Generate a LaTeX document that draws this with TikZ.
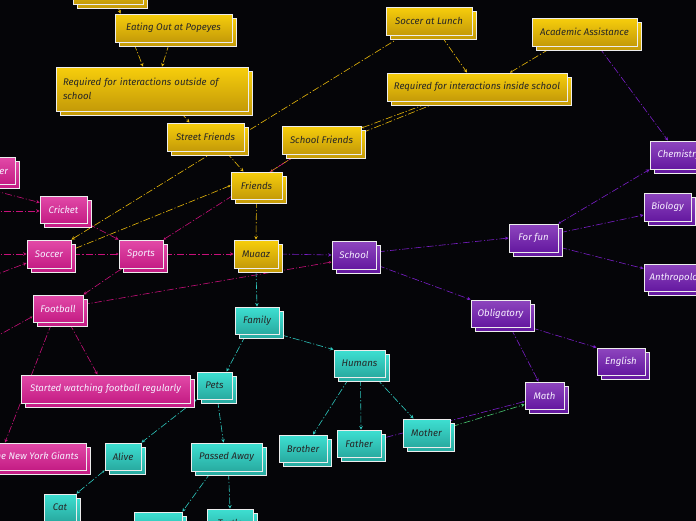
\documentclass[tikz,border=0pt]{standalone}
\usepackage{fontspec}
\setmainfont{Fira Sans}
\usetikzlibrary{arrows.meta,shadows}
\definecolor{bgc}{HTML}{050508}
\definecolor{ytop}{HTML}{F7CE0C}
\definecolor{ybot}{HTML}{C49A08}
\definecolor{ptop}{HTML}{E24AA8}
\definecolor{pbot}{HTML}{C41C84}
\definecolor{vtop}{HTML}{8E46BE}
\definecolor{vbot}{HTML}{6418A0}
\definecolor{ttop}{HTML}{3EE0D2}
\definecolor{tbot}{HTML}{28AAA0}
\definecolor{ylin}{HTML}{E8B80A}
\definecolor{plin}{HTML}{C8107A}
\definecolor{vlin}{HTML}{7A1EC8}
\definecolor{tlin}{HTML}{2EC8BE}
\definecolor{glin}{HTML}{48C870}
\definecolor{bord}{HTML}{EDEDED}
\definecolor{darktxt}{HTML}{262626}
\definecolor{lighttxt}{HTML}{F6EEFF}
\pgfdeclarelayer{bglayer}
\pgfdeclarelayer{edgelayer}
\pgfsetlayers{bglayer,edgelayer,main}
\tikzset{
  box/.style={rectangle, draw=bord, line width=0.9pt, inner sep=0pt,
    font=\fontsize{9.6}{14.5}\selectfont\itshape},
  ybox/.style={box, top color=ytop, bottom color=ybot, text=darktxt,
    general shadow={shadow xshift=4pt, shadow yshift=-4pt, draw=bord, line width=0.9pt, top color=ytop, bottom color=ybot}},
  pbox/.style={box, top color=ptop, bottom color=pbot, text=lighttxt,
    general shadow={shadow xshift=4pt, shadow yshift=-4pt, draw=bord, line width=0.9pt, top color=ptop, bottom color=pbot}},
  vbox/.style={box, top color=vtop, bottom color=vbot, text=lighttxt,
    general shadow={shadow xshift=4pt, shadow yshift=-4pt, draw=bord, line width=0.9pt, top color=vtop, bottom color=vbot}},
  tbox/.style={box, top color=ttop, bottom color=tbot, text=darktxt,
    general shadow={shadow xshift=4pt, shadow yshift=-4pt, draw=bord, line width=0.9pt, top color=ttop, bottom color=tbot}},
  sz/.style 2 args={minimum width=#1, minimum height=#2},
  con/.style={line width=0.6pt, dash pattern=on 7pt off 2pt on 1.2pt off 2pt,
    {Stealth[length=2.5pt,width=2.5pt]}-{Stealth[length=3.5pt,width=3.5pt]}},
  ycon/.style={con, draw=ylin},
  pcon/.style={con, draw=plin},
  vcon/.style={con, draw=vlin},
  tcon/.style={con, draw=tlin},
  gcon/.style={con, draw=glin},
}
\begin{document}
\begin{tikzpicture}[x=1pt,y=-1pt]
\useasboundingbox (0,0) rectangle (696,520);
\begin{pgfonlayer}{bglayer}
\fill[bgc] (-20,-20) rectangle (716,540);
\end{pgfonlayer}

% yellow
\node[ybox, sz={70}{24}] (top) at (108,-8) {};
\node[ybox, sz={117}{28}] (eat) at (173.5,28) {Eating Out at Popeyes};
\node[ybox, sz={192}{44}, text width=178, align=left] (reqout) at (152,89) {Required for interactions outside of\\school};
\node[ybox, sz={77}{28}] (street) at (205.5,137) {Street Friends};
\node[ybox, sz={86}{28}] (lunch) at (429,21) {Soccer at Lunch};
\node[ybox, sz={180}{28}] (reqin) at (477,87) {Required for interactions inside school};
\node[ybox, sz={79}{28}] (schoolfr) at (321.5,140) {School Friends};
\node[ybox, sz={105}{28}] (acad) at (584.5,32) {Academic Assistance};
\node[ybox, sz={51}{27}] (friends) at (256.5,185.5) {Friends};
\node[ybox, sz={44}{28}] (muaaz) at (256,254) {Muaaz};

% purple
\node[vbox, sz={44}{28}] (school) at (354,255) {School};
\node[vbox, sz={49}{28}] (forfun) at (533.5,238) {For fun};
\node[vbox, sz={58}{28}] (chem) at (679,155) {Chemistry};
\node[vbox, sz={47}{28}] (biology) at (667.5,207) {Biology};
\node[vbox, sz={70}{27}] (anthro) at (679,277.5) {Anthropology};
\node[vbox, sz={59}{27}] (oblig) at (500.5,313.5) {Obligatory};
\node[vbox, sz={48}{27}] (english) at (621,361.5) {English};
\node[vbox, sz={39}{27}] (math) at (544.5,395.5) {Math};

% pink
\node[pbox, sz={38}{27}] (other) at (-4,170.5) {Other};
\node[pbox, sz={47}{27}] (cricket) at (63.5,209.5) {Cricket};
\node[pbox, sz={44}{28}] (soccer) at (49,254) {Soccer};
\node[pbox, sz={44}{28}] (sports) at (141,254) {Sports};
\node[pbox, sz={50}{27}] (football) at (58,308.5) {Football};
\node[pbox, sz={169}{28}] (started) at (105.5,389) {Started watching football regularly};
\node[pbox, minimum height=27, inner xsep=8pt, anchor=east] (giants) at (87,456.5) {Became a fan of the New York Giants};

% teal
\node[tbox, sz={44}{27}] (family) at (257,320.5) {Family};
\node[tbox, sz={35}{27}] (pets) at (214.5,385.5) {Pets};
\node[tbox, sz={51}{27}] (humans) at (359.5,363.5) {Humans};
\node[tbox, sz={48}{27}] (brother) at (303,448.5) {Brother};
\node[tbox, sz={44}{27}] (father) at (359,443.5) {Father};
\node[tbox, sz={47}{28}] (mother) at (426.5,433) {Mother};
\node[tbox, sz={36}{27}] (alive) at (123,456.5) {Alive};
\node[tbox, sz={71}{28}] (passed) at (226.5,457) {Passed Away};
\node[tbox, sz={32}{27}] (cat) at (60,507.5) {Cat};
\node[tbox, sz={48}{27}] (bot1) at (158,525.5) {};
\node[tbox, sz={46}{27}] (bot2) at (230,522.5) {Turtle};

\coordinate (Lsoc1) at (-10,254);
\coordinate (Lsoc2) at (-10,277);
\coordinate (Lcri1) at (-20,187);
\coordinate (Lcri2) at (-10,211);
\coordinate (Lfb) at (-10,340);

\begin{pgfonlayer}{edgelayer}
% yellow
\draw[ycon] ([xshift=9]top.south) -- ([xshift=-53]eat.north);
\draw[ycon] ([xshift=-40]eat.south) -- ([xshift=-9]reqout.north);
\draw[ycon] ([xshift=-4]eat.south) -- ([xshift=10]reqout.north);
\draw[ycon] ([xshift=28]reqout.south) -- ([xshift=-16]street.north);
\draw[ycon] ([xshift=20]street.south) -- ([xshift=-13]friends.north);
\draw[ycon] ([xshift=-26]lunch.south) -- (soccer.north east);
\draw[ycon] (friends.west) -- ([yshift=4]soccer.east);
\draw[ycon] ([xshift=12]lunch.south) -- ([xshift=-10]reqin.north);
\draw[ycon] ([xshift=33]reqin.north) -- ([xshift=-31]acad.south);
\draw[ycon] ([yshift=12]schoolfr.east) -- ([xshift=-44]reqin.south);
\draw[ycon] ([yshift=7]schoolfr.east) -- ([xshift=-37]reqin.south);
\draw[ycon] ([xshift=14]friends.north) -- ([xshift=-24]schoolfr.south);
\draw[ycon] (friends.south) -- (muaaz.north);
% pink
\draw[pcon] (sports.east) -- (muaaz.west);
\draw[pcon] (sports.west) -- (soccer.east);
\draw[pcon] (Lsoc1) -- (soccer.west);
\draw[pcon] (Lsoc2) -- ([yshift=-9]soccer.west);
\draw[pcon] (Lcri1) -- ([yshift=7]cricket.west);
\draw[pcon] (Lcri2) -- ([yshift=-1.5]cricket.west);
\draw[pcon] (cricket.south east) -- (sports.north west);
\draw[pcon] ([xshift=-19]sports.south) -- (football.north east);
\draw[pcon] ([yshift=-7]school.west) -- ([yshift=4]football.east);
\draw[pcon] ([yshift=-8]football.west) -- (Lfb);
\draw[pcon] ([xshift=11]football.south) -- ([xshift=-8]started.north);
\draw[pcon] ([xshift=-6]football.south) -- ([xshift=-82]giants.north east);
\draw[pcon] (sports.north east) -- ([xshift=16]schoolfr.south west);
% purple
\draw[vcon] (muaaz.east) -- (school.west);
\draw[vcon] ([yshift=3]school.east) -- (forfun.west);
\draw[vcon] ([yshift=-10]school.east) -- (oblig.north west);
\draw[vcon] (forfun.north east) -- (chem.south west);
\draw[vcon] ([yshift=5]forfun.east) -- ([yshift=-8]biology.west);
\draw[vcon] ([yshift=-9]forfun.east) -- ([yshift=9]anthro.west);
\draw[vcon] ([xshift=14]acad.south) -- ([xshift=-11]chem.north);
\draw[vcon] (oblig.south east) -- (english.north west);
\draw[vcon] ([xshift=10]oblig.south) -- ([xshift=-6]math.north);
\draw[vcon] ([yshift=-6]math.west) -- ([yshift=5]father.east);
\draw[gcon] ([yshift=6]mother.east) -- ([yshift=-9]math.west);
% teal
\draw[tcon] (muaaz.south) -- (family.north);
\draw[tcon] ([xshift=-11]family.south) -- ([xshift=12]pets.north);
\draw[tcon] (family.south east) -- (humans.north west);
\draw[tcon] ([xshift=-10]humans.south) -- ([xshift=10]brother.north);
\draw[tcon] ([xshift=1]humans.south) -- ([xshift=2]father.north);
\draw[tcon] ([xshift=16]humans.south) -- ([xshift=-13]mother.north);
\draw[tcon] (pets.south west) -- (alive.north east);
\draw[tcon] ([xshift=3]pets.south) -- ([xshift=-3]passed.north);
\draw[tcon] (alive.south west) -- (cat.north east);
\draw[tcon] ([xshift=-15]passed.south) -- (bot1.north east);
\draw[tcon] ([xshift=2]passed.south) -- (bot2.north);
\end{pgfonlayer}
\end{tikzpicture}
\end{document}
